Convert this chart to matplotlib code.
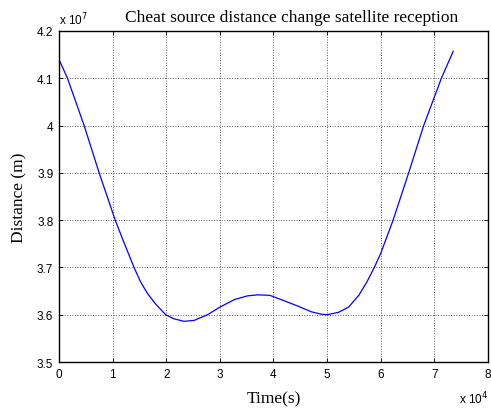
import matplotlib
matplotlib.use('Agg')
import matplotlib.pyplot as plt
import numpy as np

# values
time_s = [0, 1600, 4700, 7500, 10500, 11800, 14000, 15200, 16500, 18000,
          19900, 21400, 23300, 25200, 27700, 30000, 32700, 35200, 37100,
          39300, 42100, 44600, 47100, 49000, 50000, 52100, 54000, 55900,
          57400, 58800, 60000, 62300, 65200, 68000, 71300, 73500]
distance_m = [4.140e7, 4.100e7, 4.000e7, 3.900e7, 3.800e7, 3.762e7, 3.700e7,
              3.670e7, 3.645e7, 3.623e7, 3.600e7, 3.5915e7, 3.586e7, 3.588e7,
              3.600e7, 3.616e7, 3.632e7, 3.640e7, 3.642e7, 3.641e7, 3.629e7,
              3.618e7, 3.606e7, 3.601e7, 3.600e7, 3.605e7, 3.616e7, 3.641e7,
              3.669e7, 3.700e7, 3.730e7, 3.800e7, 3.900e7, 4.000e7, 4.100e7,
              4.157e7]

xticks = [0, 1, 2, 3, 4, 5, 6, 7, 8]
yticks = [3.5, 3.6, 3.7, 3.8, 3.9, 4.0, 4.1, 4.2]
xtick_labels = ['0', '1', '2', '3', '4', '5', '6', '7', '8']
ytick_labels = ['3.5', '3.6', '3.7', '3.8', '3.9', '4', '4.1', '4.2']

serif = ['Liberation Serif', 'DejaVu Serif']
sans = ['Liberation Sans', 'DejaVu Sans']

fig = plt.figure(figsize=(4.91, 4.10), dpi=100)
ax = fig.add_axes([0.120, 0.1146, 0.874, 0.8074])

t = np.array(time_s) / 1e4
d = np.array(distance_m) / 1e7
ax.plot(t, d, color='#0000ff', lw=0.9)

ax.set_xlim(0, 8)
ax.set_ylim(3.5, 4.2)
ax.set_xticks(xticks)
ax.set_yticks(yticks)
ax.set_xticklabels(xtick_labels, family=sans, fontsize=8.5)
ax.set_yticklabels(ytick_labels, family=sans, fontsize=8.5)
ax.tick_params(direction='in', length=3, width=0.6, top=True, right=True, pad=4)
ax.grid(True, color='0.35', linestyle=':', linewidth=0.7)
for s in ax.spines.values():
    s.set_linewidth(1.0)

ax.set_title('Cheat source distance change satellite reception',
             family=serif, fontsize=12.5, pad=7, x=0.543)
ax.set_xlabel('Time(s)', family=serif, fontsize=12.5, labelpad=8)
ax.set_ylabel('Distance (m)', family=serif, fontsize=12.5, labelpad=7)

# MATLAB style exponent labels
ax.text(0.0, 1.012, r'x 10$^{7}$', transform=ax.transAxes, family=sans,
        fontsize=8.5, ha='left', va='bottom')
ax.text(1.0, -0.085, r'x 10$^{4}$', transform=ax.transAxes, family=sans,
        fontsize=8.5, ha='right', va='top')

fig.savefig('out.png', dpi=100)
